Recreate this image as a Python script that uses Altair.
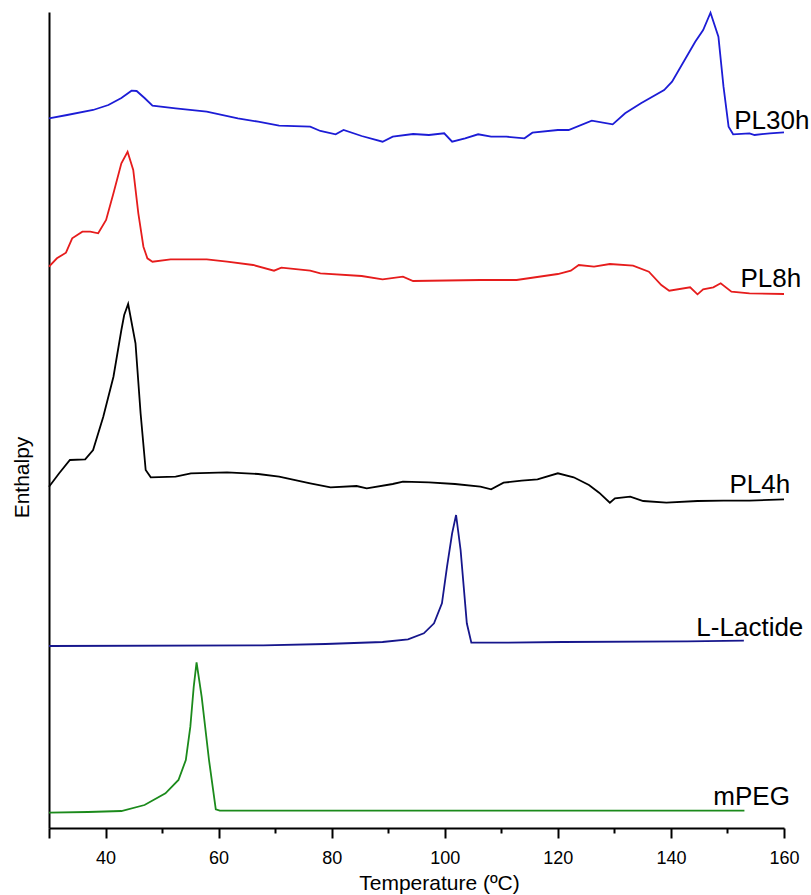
import altair as alt
import pandas as pd

series_names = ["PL30h", "PL8h", "PL4h", "L-Lactide", "mPEG"]
series_colors = ["#1c1cd6", "#e61c1c", "#000000", "#16168c", "#1b8a1b"]

pl30h_t = [30, 33.2, 37.8, 40.5, 42.8, 44.6, 45.5, 46.9, 48.3, 52.4, 57.9, 63.4, 67.0, 70.7,
           76.2, 78.0, 80.7, 82.1, 85.3, 89.0, 90.8, 94.4, 97.2, 99.9, 101.3, 103.6, 105.9,
           108.2, 110.9, 114.1, 115.5, 120.0, 121.9, 126.0, 129.7, 131.9, 134.7, 138.8, 140.2,
           144.3, 145.7, 147.0, 148.4, 149.3, 150.2, 151.0, 153.9, 154.8, 157.5, 160.0]
pl30h_v = [709.7, 713, 718, 723, 730, 737.3, 737, 730, 722.3, 719.7, 716.3, 709.7, 706.3, 702.3,
           701.3, 697, 693.7, 698, 692, 686.3, 691.3, 694, 693, 694.7, 686.3, 689.7, 693.7,
           691.3, 691.3, 689.7, 695.3, 698, 698, 707.3, 703.7, 714.7, 724.7, 738, 746.3,
           786.3, 798, 815.3, 791.3, 741.3, 701.3, 693.7, 694.7, 693, 694.7, 695.7]

pl8h_t = [30, 31.4, 33.0, 34.1, 35.9, 37.3, 38.7, 40.1, 41.4, 42.8, 43.9, 44.9, 45.8, 46.7, 47.4,
          48.3, 51.5, 57.9, 61.5, 66.1, 69.8, 71.1, 76.2, 78.0, 85.3, 89.0, 92.6, 94.4, 106.3,
          112.7, 120.0, 122.3, 123.7, 126.4, 129.2, 133.3, 136.1, 138.3, 139.7, 143.4, 144.7,
          145.7, 147.5, 148.8, 150.7, 153.9, 160.0]
pl8h_v = [561.3, 569.7, 575.3, 589.7, 596.3, 596.3, 594.7, 608, 634.7, 664.7, 676.3, 658, 614.7,
          581.3, 569.7, 566.3, 568.7, 568.7, 566.3, 563, 557.3, 560.3, 557.3, 554.7, 552, 548.7,
          551.3, 547, 548, 548, 554, 557.3, 563, 561.3, 564, 562.3, 556.3, 543, 537.3, 540.7,
          533.7, 538.7, 540.7, 544.7, 536.3, 534.7, 534]

pl4h_t = [30, 31.8, 33.7, 36.4, 37.8, 39.6, 41.4, 42.8, 43.3, 44.0, 45.3, 46.2, 47.1, 48.0, 52.4,
          55.1, 61.5, 67.0, 70.7, 76.2, 79.8, 84.4, 86.2, 90.8, 92.6, 97.2, 101.8, 106.3, 108.2,
          110.4, 113.6, 116.4, 120.0, 122.8, 125.5, 127.3, 129.2, 130.1, 132.8, 135.1, 139.2,
          144.7, 149.3, 153.9, 160.0]
pl4h_v = [341.3, 354.7, 368, 368.7, 378, 411.3, 451.3, 498, 513, 524, 484.7, 414.7, 358, 350.7,
          351.3, 354.7, 355.7, 354, 351.3, 344.7, 340.7, 342, 339.7, 344, 346.3, 345.7, 344,
          341.3, 338.7, 345.3, 347.3, 348.7, 354.7, 350.7, 343, 335.3, 325.3, 329.7, 331.3,
          327, 325.3, 327, 327.3, 327.3, 328.7]

lact_t = [30, 67.9, 78.9, 89.0, 93.5, 96.3, 98.1, 99.5, 100.4, 101.3, 102.0, 102.8, 103.9, 104.7,
          110.9, 120.9, 142.9, 152.9]
lact_v = [182, 182.7, 184, 186, 188.7, 194.7, 204.7, 224.7, 261.3, 294.7, 313, 278, 204.7, 185.3,
          185.3, 186, 186.7, 187.3]

mpeg_t = [30, 36.9, 42.8, 46.9, 50.6, 52.9, 54.2, 55.0, 55.6, 56.1, 57.0, 58.3, 59.5, 60.2, 153.0]
mpeg_v = [15.3, 16, 17, 23, 34.7, 48, 68, 101.3, 141.3, 165.7, 131.3, 68, 18.7, 17.3, 17.3]

label_t = [151.2, 152.3, 150.35, 144.5, 147.5]
label_v = [699, 541, 335, 192, 23]

tick_values = [30, 40, 50, 60, 70, 80, 90, 100, 110, 120, 130, 140, 150, 160]

rows = []
for name, ts, vs in zip(series_names,
                        [pl30h_t, pl8h_t, pl4h_t, lact_t, mpeg_t],
                        [pl30h_v, pl8h_v, pl4h_v, lact_v, mpeg_v]):
    for t, v in zip(ts, vs):
        rows.append({"series": name, "T": t, "v": v})
df = pd.DataFrame(rows)
lab = pd.DataFrame({"series": series_names, "T": label_t, "v": label_v})

FONT = "Liberation Sans"
xscale = alt.Scale(domain=[30, 160], nice=False, zero=False)
yscale = alt.Scale(domain=[0, 816], nice=False, zero=False)

major_test = "datum.value % 20 == 0 || datum.value == 30"

lines = alt.Chart(df).mark_line(strokeWidth=1.8).encode(
    x=alt.X("T:Q", scale=xscale,
            axis=alt.Axis(values=tick_values, orient="bottom",
                          labelExpr="(datum.value % 20 == 0) ? datum.label : ''",
                          title="Temperature (ºC)", grid=False,
                          tickSize={"condition": {"test": major_test, "value": 10}, "value": 5},
                          tickWidth=2, tickColor="black",
                          domainWidth=2, domainColor="black",
                          labelFont=FONT, labelFontSize=18, labelColor="black", labelPadding=11,
                          labelFlush=False, labelOverlap=False,
                          titleFont=FONT, titleFontSize=21, titleFontWeight="normal",
                          titleColor="black", titleX=390, titleY=61, titleAlign="center",
                          titleBaseline="alphabetic")),
    y=alt.Y("v:Q", scale=yscale,
            axis=alt.Axis(title="Enthalpy", ticks=False, labels=False, grid=False,
                          domainWidth=2, domainColor="black",
                          titleFont=FONT, titleFontSize=21, titleFontWeight="normal",
                          titleColor="black", titleX=-21, titleY=465,
                          titleBaseline="alphabetic", titleAlign="center", titleAngle=270)),
    color=alt.Color("series:N", scale=alt.Scale(domain=series_names, range=series_colors),
                    legend=None),
)

labels = alt.Chart(lab).mark_text(align="left", baseline="alphabetic", font=FONT,
                                  fontSize=26, color="black").encode(
    x=alt.X("T:Q", scale=xscale),
    y=alt.Y("v:Q", scale=yscale),
    text="series:N",
)

chart = alt.layer(lines, labels).properties(
    width=735, height=816,
    autosize=alt.AutoSizeParams(type="none"),
    padding={"left": 49, "top": 12, "right": 27, "bottom": 67},
    background="white",
).configure_view(stroke=None)

chart.save("out.html", embed_options={"renderer": "svg", "actions": False})
